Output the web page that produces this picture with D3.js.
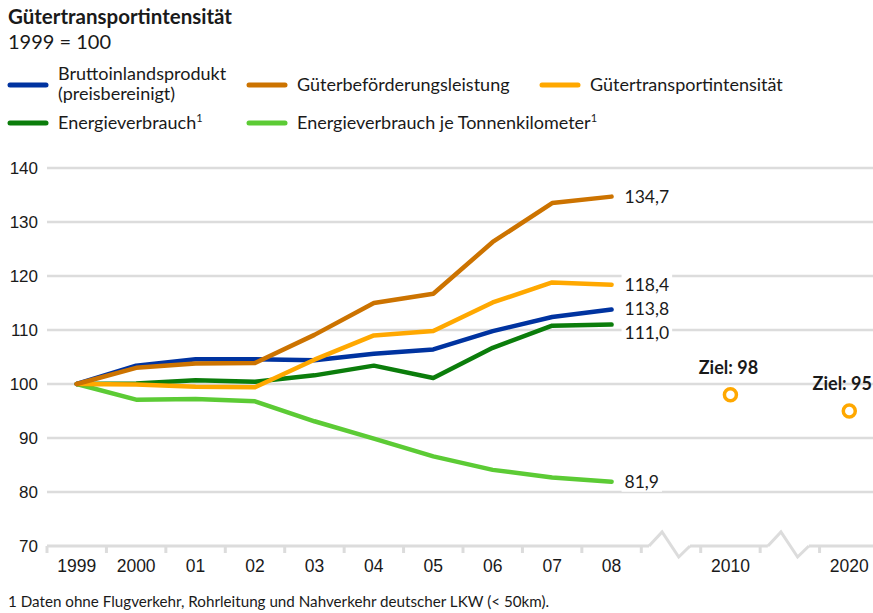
<!DOCTYPE html>
<html>
<head>
<meta charset="utf-8">
<script src="https://cdn.jsdelivr.net/npm/d3@7"></script>
<style>
  body { margin: 0; background: #fff; }
  svg { display: block; font-family: Lato, "Noto Sans", sans-serif; }
  text { fill: #1a1a1a; }
</style>
</head>
<body>
<svg id="vis" width="873" height="613"></svg>
<script>
// categories on the x axis (the gaps hold the zigzag breaks)
const years = ["1999", "2000", "01", "02", "03", "04", "05", "06", "07", "08"];
const xDomain = [...years, "gap1", "2010", "gap2", "2020"];
const yTicks = [70, 80, 90, 100, 110, 120, 130, 140];

// index values, 1999 = 100
const bip          = [100, 103.4, 104.6, 104.6, 104.4, 105.6, 106.4, 109.8, 112.4, 113.8];
const gueterbef    = [100, 103.0, 103.8, 103.9, 109.1, 115.0, 116.7, 126.3, 133.5, 134.7];
const intensitaet  = [100, 99.9, 99.5, 99.4, 104.5, 109.0, 109.8, 115.1, 118.8, 118.4];
const energie      = [100, 100.1, 100.7, 100.4, 101.6, 103.4, 101.1, 106.7, 110.8, 111.0];
const energieTkm   = [100, 97.1, 97.2, 96.8, 93.1, 89.9, 86.6, 84.1, 82.7, 81.9];

const zielYears  = ["2010", "2020"];
const zielValues = [98, 95];

const series = [
  { name: "Energieverbrauch je Tonnenkilometer", values: energieTkm, color: "#5ccb35" },
  { name: "Energieverbrauch", values: energie, color: "#0b7d0b" },
  { name: "Bruttoinlandsprodukt", values: bip, color: "#0033a0" },
  { name: "Gütertransportintensität", values: intensitaet, color: "#ffa800" },
  { name: "Güterbeförderungsleistung", values: gueterbef, color: "#cc7300" }
];

const svg = d3.select("#vis");
const W = 873;
const left = 47, right = 879;

let x = d3.scaleBand().domain(xDomain).range([left, right]).padding(0);
let y = d3.scaleLinear().domain([70, 140]).range([546, 168]);
const bw = x.bandwidth();
const cx = d => x(d) + bw / 2;

// title
svg.append("text").attr("x", 8).attr("y", 24)
  .style("font-weight", "bold").style("font-size", "20.5px")
  .text("Gütertransportintensität");
svg.append("text").attr("x", 8).attr("y", 49)
  .style("font-size", "20px").text("1999 = 100");

// legend
const legend = [
  { c: "#0033a0", x: 8,   y: 85,  lines: ["Bruttoinlandsprodukt", "(preisbereinigt)"] },
  { c: "#cc7300", x: 247, y: 85,  lines: ["Güterbeförderungsleistung"] },
  { c: "#ffa800", x: 540, y: 85,  lines: ["Gütertransportintensität"] },
  { c: "#0b7d0b", x: 8,   y: 123, lines: ["Energieverbrauch"], sup: true },
  { c: "#5ccb35", x: 247, y: 123, lines: ["Energieverbrauch je Tonnenkilometer"], sup: true }
];
legend.forEach(l => {
  svg.append("line")
    .attr("x1", l.x + 2).attr("x2", l.x + 38)
    .attr("y1", l.y).attr("y2", l.y)
    .attr("stroke", l.c).attr("stroke-width", 5).attr("stroke-linecap", "round");
  const t = svg.append("text").style("font-size", "18px")
    .attr("x", l.x + 50);
  if (l.lines.length == 2) {
    t.append("tspan").attr("x", l.x + 50).attr("y", l.y - 5).text(l.lines[0]);
    t.append("tspan").attr("x", l.x + 50).attr("y", l.y + 15).text(l.lines[1]);
  } else {
    t.attr("y", l.y + 6).text(l.lines[0]);
    if (l.sup) t.append("tspan").attr("dy", -7).style("font-size", "11px").text("1");
  }
});

// grid
const grid = svg.append("g");
grid.selectAll("line")
  .data(yTicks.filter(d => d > 70))
  .enter().append("line")
    .attr("x1", left).attr("x2", W)
    .attr("y1", d => y(d)).attr("y2", d => y(d))
    .attr("stroke", "#dcdcdc").attr("stroke-width", 2.5);

// y axis labels
svg.append("g")
  .attr("transform", `translate(${left},0)`)
  .call(d3.axisLeft(y).tickValues(yTicks).tickSize(0).tickPadding(9))
  .call(g => g.select(".domain").remove())
  .call(g => g.selectAll("text").style("font-size", "17px").style("font-family", "inherit").attr("fill", "#1a1a1a"));

// baseline with breaks
const y0 = y(70);
let pts = [[left, y0]];
["gap1", "gap2"].forEach(gp => {
  const s = x(gp);
  pts.push([s + bw * 0.13, y0], [s + bw * 0.35, y0 - 14], [s + bw * 0.63, y0 + 11], [s + bw * 0.82, y0]);
});
pts.push([W, y0]);
let base = svg.append("g");
let segs = [[pts[0], pts[1]], [pts[4], pts[5]], [pts[8], pts[9]]];
segs.forEach(s => base.append("line")
  .attr("x1", s[0][0]).attr("y1", s[0][1]).attr("x2", s[1][0]).attr("y2", s[1][1])
  .attr("stroke", "#dcdcdc").attr("stroke-width", 3));
[pts.slice(1, 5), pts.slice(5, 9)].forEach(z => base.append("path")
  .attr("d", d3.line()(z)).attr("fill", "none")
  .attr("stroke", "#dcdcdc").attr("stroke-width", 3));
base.selectAll(".tick")
  .data(xDomain.map(d => x(d)).concat([right]))
  .enter().append("line")
    .attr("x1", d => d).attr("x2", d => d)
    .attr("y1", y0).attr("y2", y0 + 7)
    .attr("stroke", "#dcdcdc").attr("stroke-width", 3);

// x axis labels
svg.append("g")
  .attr("transform", `translate(0,${y0})`)
  .call(d3.axisBottom(x).tickSize(0).tickPadding(14).tickFormat(d => d.startsWith("gap") ? "" : d))
  .call(g => g.select(".domain").remove())
  .call(g => g.selectAll("text").style("font-size", "17.5px").style("font-family", "inherit").attr("fill", "#1a1a1a"));

// lines
const line = d3.line().x((d, i) => cx(years[i])).y(d => y(d));
svg.append("g").selectAll("path")
  .data(series)
  .enter().append("path")
    .attr("d", d => line(d.values))
    .attr("fill", "none")
    .attr("stroke", d => d.color)
    .attr("stroke-width", 4.5)
    .attr("stroke-linejoin", "round")
    .attr("stroke-linecap", "round");

// end labels
const fmt = v => d3.format(".1f")(v).replace(".", ",");
const shift = { "Energieverbrauch": 8 };
series.forEach(s => {
  const v = s.values[s.values.length - 1];
  const ly = y(v) + (shift[s.name] || 0);
  const g = svg.append("g");
  const t = g.append("text")
    .attr("x", cx("08") + 13).attr("y", ly + 6)
    .style("font-size", "17.5px").text(fmt(v));
  const bb = t.node().getBBox();
  g.insert("rect", "text")
    .attr("x", bb.x - 3).attr("y", bb.y).attr("width", bb.width + 6).attr("height", bb.height)
    .attr("fill", "#fff");
});

// targets
zielYears.forEach((yr, i) => {
  svg.append("circle")
    .attr("cx", cx(yr)).attr("cy", y(zielValues[i]))
    .attr("r", 6).attr("fill", "#fff")
    .attr("stroke", "#ffa800").attr("stroke-width", 3.5);
  const t = svg.append("text")
    .attr("x", cx(yr) - 2).attr("y", y(zielValues[i]) - 21)
    .attr("text-anchor", "middle")
    .style("font-size", "18px").style("font-weight", "bold")
    .text("Ziel: " + zielValues[i]);
  // keep the label inside the picture
  const bb = t.node().getBBox();
  if (bb.x + bb.width > W - 1) t.attr("x", +t.attr("x") - (bb.x + bb.width - (W - 1)));
});

// footnote
svg.append("text").attr("x", 8).attr("y", 607)
  .style("font-size", "15.2px")
  .text("1 Daten ohne Flugverkehr, Rohrleitung und Nahverkehr deutscher LKW (< 50km).");
</script>
</body>
</html>
